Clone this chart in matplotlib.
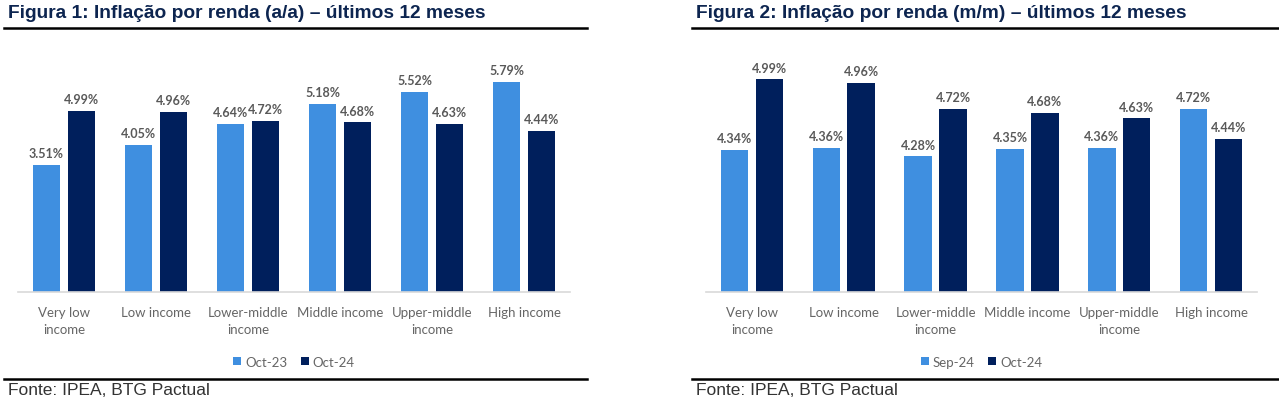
import matplotlib
matplotlib.use('Agg')
import matplotlib.pyplot as plt
import numpy as np
from matplotlib.lines import Line2D

# Dados
categorias = ['Very low\nincome', 'Low income', 'Lower-middle\nincome',
              'Middle income', 'Upper-middle\nincome', 'High income']
fig1_oct23 = [3.51, 4.05, 4.64, 5.18, 5.52, 5.79]
fig1_oct24 = [4.99, 4.96, 4.72, 4.68, 4.63, 4.44]
fig2_sep24 = [4.34, 4.36, 4.28, 4.35, 4.36, 4.72]
fig2_oct24 = [4.99, 4.96, 4.72, 4.68, 4.63, 4.44]

cor_clara = '#3f8fe0'
cor_escura = '#001f5c'
cinza = '#595959'
titulo_cor = '#0d2550'

fig = plt.figure(figsize=(12.79, 4.14), dpi=100)
W, H = 1279, 414

def px(x, y):
    return x / W, 1 - y / H

def painel(rect, s1, s2, nomes, ylim):
    ax = fig.add_axes(rect)
    x = np.arange(len(categorias))
    b1 = ax.bar(x - 0.19, s1, 0.30, color=cor_clara, label=nomes[0])
    b2 = ax.bar(x + 0.19, s2, 0.30, color=cor_escura, label=nomes[1])
    for barras, vals in ((b1, s1), (b2, s2)):
        for b, v in zip(barras, vals):
            ax.annotate(f'{v:.2f}%', (b.get_x() + b.get_width() / 2, v),
                        xytext=(0, 4), textcoords='offset points',
                        ha='center', va='bottom', fontsize=9,
                        fontweight='bold', color=cinza, family='Lato')
    ax.set_xlim(-0.5, len(categorias) - 0.5)
    ax.set_ylim(*ylim)
    ax.set_yticks([])
    ax.set_xticks(x)
    ax.set_xticklabels(categorias, fontsize=9.5, color='#666666', family='Lato',
                       linespacing=1.5)
    ax.tick_params(axis='x', length=0, pad=10)
    for s in ('top', 'right', 'left'):
        ax.spines[s].set_visible(False)
    ax.spines['bottom'].set_color('#d9d9d9')
    ax.spines['bottom'].set_linewidth(1.2)
    ax.patch.set_alpha(0)
    leg = ax.legend(loc='upper center', bbox_to_anchor=(0.5, -0.205), ncol=2,
                    frameon=False, handlelength=0.6, handleheight=0.6,
                    handletextpad=0.3, columnspacing=1.0,
                    prop={'family': 'Lato', 'size': 9.5})
    for t in leg.get_texts():
        t.set_color('#666666')
    return ax

# eixos: base em y=293 px, altura 254 px
painel([18 / W, (H - 293) / H, 552 / W, 254 / H], fig1_oct23, fig1_oct24,
       ['Oct-23', 'Oct-24'], (0, 7.0))
painel([706 / W, (H - 293) / H, 551 / W, 254 / H], fig2_sep24, fig2_oct24,
       ['Sep-24', 'Oct-24'], (3.03, 3.03 + 254 / 108.5))

# titulos, linhas e fonte
for x0, x1, txt in ((4, 587, 'Figura 1: Inflação por renda (a/a) – últimos 12 meses'),
                    (692, 1279, 'Figura 2: Inflação por renda (m/m) – últimos 12 meses')):
    fig.text(*px(x0 + 4, 14), txt, fontsize=13.8, fontweight='bold',
             color=titulo_cor, family='Liberation Sans', va='center', ha='left')
    fig.add_artist(Line2D([x0 / W, x1 / W], [1 - 28.5 / H] * 2, color='black', lw=1.8))
    fig.add_artist(Line2D([x0 / W, x1 / W], [1 - 380 / H] * 2, color='black', lw=1.8))
    fig.text(*px(x0 + 4, 391), 'Fonte: IPEA, BTG Pactual', fontsize=12.5,
             color='#333333', family='Liberation Sans', va='center', ha='left')

fig.savefig('out.png', dpi=100)
